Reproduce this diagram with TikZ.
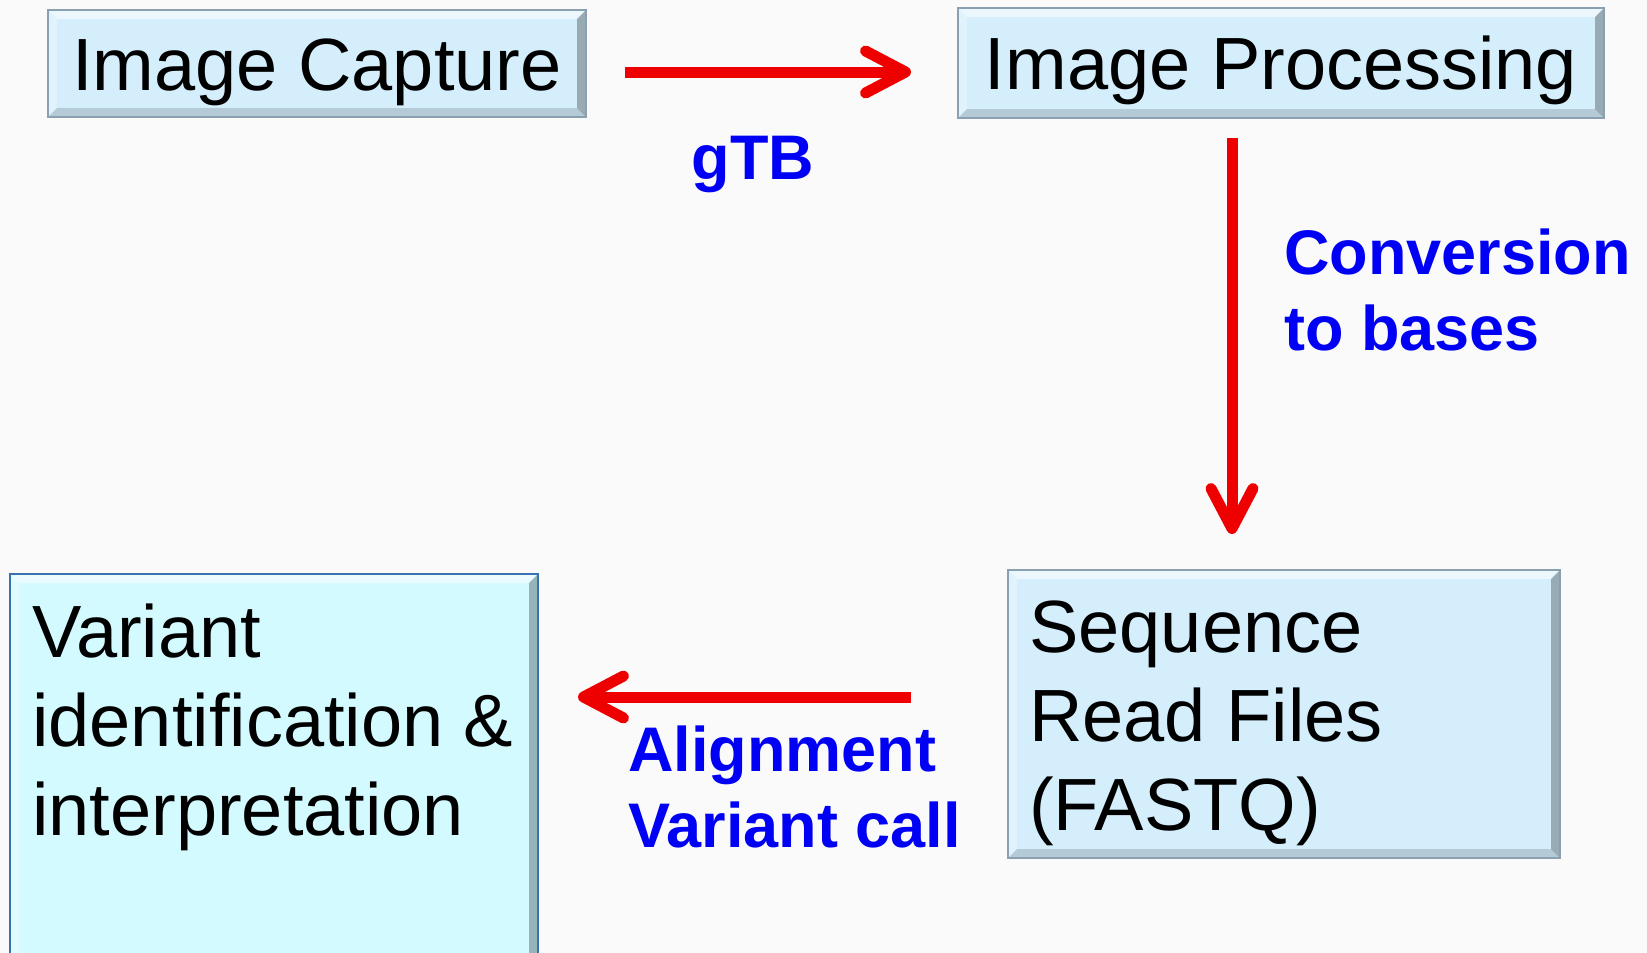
\documentclass[tikz,border=0pt]{standalone}
\usepackage{fontspec}
\setmainfont{Liberation Sans}
\usetikzlibrary{arrows.meta}

\definecolor{boxfill}{HTML}{D4EEFC}
\definecolor{boxline}{HTML}{8A9FB0}
\definecolor{cyanfill}{HTML}{D2FAFF}
\definecolor{cyanline}{HTML}{3A72B0}
\definecolor{arrowred}{HTML}{EE0000}
\definecolor{labelblue}{HTML}{0000F5}
\definecolor{bgcol}{HTML}{FAFAFA}

% bevelled edges of the boxes
\newcommand{\boxbevel}{%
\fill[white,opacity=.55] (path picture bounding box.north west) -- (path picture bounding box.north east)
  -- ([shift={(-9pt,-9pt)}]path picture bounding box.north east) -- ([shift={(9pt,-9pt)}]path picture bounding box.north west) -- cycle;
\fill[white,opacity=.3] (path picture bounding box.north west) -- ([shift={(9pt,-9pt)}]path picture bounding box.north west)
  -- ([shift={(9pt,9pt)}]path picture bounding box.south west) -- (path picture bounding box.south west) -- cycle;
\fill[black,opacity=.28] (path picture bounding box.north east) -- (path picture bounding box.south east)
  -- ([shift={(-9pt,9pt)}]path picture bounding box.south east) -- ([shift={(-9pt,-9pt)}]path picture bounding box.north east) -- cycle;
\fill[black,opacity=.15] (path picture bounding box.south west) -- ([shift={(9pt,9pt)}]path picture bounding box.south west)
  -- ([shift={(-9pt,9pt)}]path picture bounding box.south east) -- (path picture bounding box.south east) -- cycle;}

\tikzset{
  box/.style={draw=boxline, line width=2pt, fill=boxfill, inner xsep=21pt,
    font=\fontsize{74}{89}\selectfont, path picture={\boxbevel}},
  boxtext/.style={inner sep=0pt, align=left, font=\fontsize{74}{89}\selectfont},
  lbl/.style={inner sep=0pt, align=left, text=labelblue, font=\bfseries\fontsize{63}{76}\selectfont},
  flow/.style={draw=arrowred, line width=11pt,
    -{Straight Barb[length=40pt, width=42pt, line width=11pt, round]}},
}

\begin{document}
\begin{tikzpicture}[x=1pt, y=-1pt]
\useasboundingbox (0,0) rectangle (1647,953);
\clip (0,0) rectangle (1647,953);
\fill[bgcol] (0,0) rectangle (1647,953);

\node[box, text height=53pt, text depth=0pt, minimum width=538pt, minimum height=107pt] (IC) at (317,63.5)
{Image Capture};
\node[box, text height=53pt, text depth=0pt, minimum width=646pt, minimum height=110pt] (IP) at (1281,63)
{Image Processing};
\node[box, minimum width=552pt, minimum height=288pt] (SR) at (1284,714) {};
\node[boxtext, anchor=base west] (SRtext) at (1029,830)
{Sequence\\Read Files\\(FASTQ)};
\node[box, fill=cyanfill, draw=cyanline, minimum width=528pt, minimum height=430pt] (VI) at (274,789) {};
\node[boxtext, anchor=base west] (VItext) at (32,835)
{Variant\\identification \&\\interpretation};

\node[lbl, anchor=base] (gTB) at (753,179) {gTB};
\node[lbl, anchor=base west] (conv) at (1284,350) {Conversion\\to bases};
\node[lbl, anchor=base west] (align) at (628,847) {Alignment\\Variant call};

\draw[flow, shorten <=38pt, shorten >=46pt] ([yshift=-8.5pt]IC.east) -- ([yshift=-8.5pt]IC.east -| IP.west);
\draw[flow, shorten <=19pt, shorten >=35pt] ([xshift=-49pt]IP.south) -- ([xshift=-49pt]IP.south |- SR.north);
\draw[flow, shorten <=96pt, shorten >=39pt] ([yshift=17pt]SR.west) -- ([yshift=17pt]SR.west -| VI.east);
\end{tikzpicture}
\end{document}
